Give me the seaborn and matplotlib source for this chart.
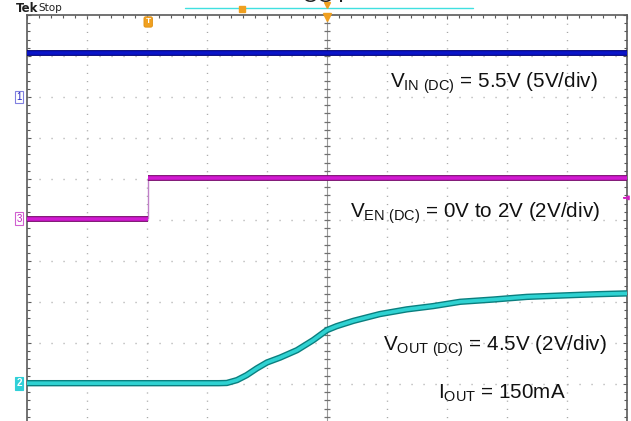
import numpy as np
import pandas as pd
import matplotlib
matplotlib.use("Agg")
import matplotlib.pyplot as plt
from matplotlib.lines import Line2D
import seaborn as sns

# ---------------- data (time in divisions, volts) ----------------
vout_t = [0.0, 3.20, 3.33, 3.50, 3.66, 3.83, 4.00, 4.22, 4.50, 4.77, 5.00, 5.16,
          5.44, 5.88, 6.33, 6.77, 7.22, 7.77, 8.33, 8.94, 9.50, 10.0]
vout_v = [0.0, 0.0, 0.01, 0.15, 0.39, 0.72, 1.01, 1.25, 1.61, 2.10, 2.59, 2.78,
          3.04, 3.37, 3.60, 3.76, 3.97, 4.08, 4.21, 4.28, 4.34, 4.38]
ven_t = [0.0, 2.02, 2.02, 10.0]
ven_v = [0.0, 0.0, 2.0, 2.0]
vin_t = [0.0, 10.0]
vin_v = [5.4, 5.4]

# channel settings: ground position (divisions from top) and volts/div
gnd = {"vin": 2.0, "ven": 4.97, "vout": 8.98}
vdiv = {"vin": 5.0, "ven": 2.0, "vout": 2.0}

labels = [
    r"V$_{\mathregular{IN\ (DC)}}$ = 5.5V (5V/div)",
    r"V$_{\mathregular{EN\ (DC)}}$ = 0V to 2V (2V/div)",
    r"V$_{\mathregular{OUT\ (DC)}}$ = 4.5V (2V/div)",
    r"I$_{\mathregular{OUT}}$ = 150mA",
]

sns.set_theme(style="white")
plt.rcParams["font.family"] = ["Liberation Sans", "DejaVu Sans"]

W, H = 631, 421
fig = plt.figure(figsize=(W / 100, H / 100), dpi=100)
fig.patch.set_facecolor("white")
ax = fig.add_axes([27 / W, 0, 600 / W, 406 / H])
ax.set_facecolor("white")
ymax = 406 / 41
ax.set_xlim(0, 10)
ax.set_ylim(ymax, 0)

# ---------------- graticule ----------------
gcol = "#a8a8a8"
for xv in range(1, 10):
    if xv == 5:
        continue
    ax.plot([xv, xv], [0, ymax], color=gcol, lw=1.0, dashes=(0.8, 5.1), zorder=1)
for yv in range(1, 10):
    ax.plot([0, 10], [yv, yv], color=gcol, lw=1.0, dashes=(0.8, 7.84), zorder=1)
# center vertical line with ticks
ax.plot([5, 5], [0, ymax], color="#9a9a9a", lw=0.8, zorder=1)
cy = np.arange(0, ymax, 0.2)
ax.plot(np.full_like(cy, 5.0), cy, ls="none", marker="_", ms=5, mew=0.9,
        color="#707070", zorder=1)

for s in ["top", "left", "right"]:
    ax.spines[s].set_color("#5a5a5a")
    ax.spines[s].set_linewidth(1.2)
ax.spines["bottom"].set_visible(False)
ax.set_xticks(np.arange(0, 10.01, 1))
ax.set_xticks(np.arange(0, 10.01, 0.2), minor=True)
ax.set_yticks(np.arange(0, ymax, 1))
ax.set_yticks(np.arange(0, ymax, 0.2), minor=True)
ax.tick_params(which="both", direction="in", color="#5a5a5a", width=0.8,
               top=True, bottom=False, left=True, right=True,
               labeltop=False, labelbottom=False, labelleft=False, labelright=False)
ax.tick_params(which="major", length=3)
ax.tick_params(which="minor", length=2.2)

# ---------------- traces ----------------
def screen(key, t, v):
    return pd.DataFrame({"t": t, "y": [gnd[key] - x / vdiv[key] for x in v]})

d_vin = screen("vin", vin_t, vin_v)
d_ven = screen("ven", ven_t, ven_v)
d_vout = screen("vout", vout_t, vout_v)

kw = dict(estimator=None, sort=False, solid_capstyle="butt")
sns.lineplot(data=d_vin, x="t", y="y", ax=ax, color="#00007a", lw=4.2, zorder=5, **kw)
sns.lineplot(data=d_vin, x="t", y="y", ax=ax, color="#0a14c8", lw=2.6, zorder=6, **kw)

lo = d_ven.iloc[:2]
hi = d_ven.iloc[2:]
sns.lineplot(data=d_ven.iloc[1:3], x="t", y="y", ax=ax, color="#c080c8", lw=1.0,
             zorder=5, **kw)
for part in (lo, hi):
    sns.lineplot(data=part, x="t", y="y", ax=ax, color="#7a0a6e", lw=4.2, zorder=5, **kw)
    sns.lineplot(data=part, x="t", y="y", ax=ax, color="#d21ad2", lw=2.6, zorder=6, **kw)

sns.lineplot(data=d_vout, x="t", y="y", ax=ax, color="#0a7f7f", lw=4.6, zorder=5, **kw)
sns.lineplot(data=d_vout, x="t", y="y", ax=ax, color="#2fd2d2", lw=2.6, zorder=6, **kw)
ax.set_xlabel("")
ax.set_ylabel("")

# ---------------- annotations ----------------
fs = 14.9
tc = "#111111"
ax.text(6.05, 1.66, labels[0], fontsize=fs, va="center", ha="left", color=tc, zorder=8)
ax.text(5.38, 4.83, labels[1], fontsize=fs, va="center", ha="left", color=tc, zorder=8)
ax.text(5.93, 8.07, labels[2], fontsize=fs, va="center", ha="left", color=tc, zorder=8)
ax.text(6.85, 9.22, labels[3], fontsize=fs, va="center", ha="left", color=tc, zorder=8)

# channel ground markers
ax.text(-0.13, gnd["vin"], "1", fontsize=7, color="#2020c0", ha="center", va="center",
        clip_on=False, bbox=dict(boxstyle="square,pad=0.15", fc="white", ec="#8080e0", lw=0.8))
ax.text(-0.13, gnd["ven"], "3", fontsize=7, color="#c020c0", ha="center", va="center",
        clip_on=False, bbox=dict(boxstyle="square,pad=0.15", fc="white", ec="#d060d0", lw=0.8))
ax.text(-0.13, gnd["vout"], "2", fontsize=7, color="white", ha="center", va="center",
        fontweight="bold", clip_on=False,
        bbox=dict(boxstyle="square,pad=0.15", fc="#30d0d8", ec="#30d0d8", lw=0.8))

# trigger position marker and trigger level arrow
ax.text(2.02, 0.17, "T", fontsize=6, color="white", fontweight="bold", ha="center",
        va="center", zorder=9,
        bbox=dict(boxstyle="round,pad=0.2", fc="#f0a020", ec="#e09010", lw=0.6))
ax.plot([5.0], [0.05], marker="v", ms=6, color="#f0a020", clip_on=False, zorder=9)
ax.annotate("", xy=(9.90, 4.46), xytext=(10.0, 4.46),
            arrowprops=dict(arrowstyle="-|>", color="#d020c0", lw=1.2,
                            mutation_scale=6), annotation_clip=False)

# ---------------- top status bar ----------------
fig.text(16 / W, 1 - 8 / H, "Tek", fontsize=8.5, fontweight="bold", va="center",
         ha="left", family="DejaVu Sans", color="#202020")
fig.text(38 / W, 1 - 8 / H, "Stop", fontsize=7.5, va="center", ha="left",
         family="DejaVu Sans", color="#202020")
fig.add_artist(Line2D([185 / W, 473 / W], [1 - 8 / H, 1 - 8 / H], color="#40e0e0", lw=1.0))
fig.add_artist(Line2D([242 / W], [1 - 9 / H], marker="s", ms=5, color="#f0a020"))
fig.add_artist(Line2D([327 / W], [1 - 5 / H], marker="v", ms=4, color="#f0a020"))
fig.text(325 / W, 1 + 4 / H, "COT", fontsize=16, ha="center", va="center", color="#202020")

fig.savefig("out.png", dpi=100)
